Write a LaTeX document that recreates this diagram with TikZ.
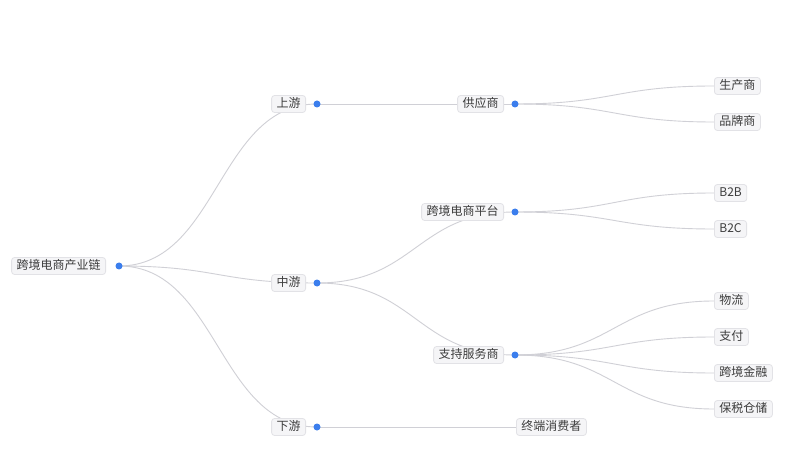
\documentclass[tikz,border=0pt]{standalone}
\usepackage{fontspec}
\setmainfont{Noto Sans CJK SC}
\usetikzlibrary{backgrounds}
\definecolor{linec}{RGB}{208,208,214}
\definecolor{dotc}{RGB}{59,126,237}
\definecolor{boxf}{RGB}{245,245,247}
\definecolor{boxd}{RGB}{226,226,230}
\definecolor{txt}{RGB}{60,60,60}
\tikzset{
  dot/.style={circle,fill=dotc,inner sep=0pt,minimum size=7pt},
  lab/.style={draw=boxd,fill=boxf,rounded corners=3pt,inner xsep=5pt,inner ysep=0pt,
    text=txt,font=\fontsize{12}{12}\selectfont,line width=0.8pt,
    minimum height=17pt,text height=9.5pt,text depth=2pt},
  link/.style={draw=linec,line width=0.9pt}
}
\begin{document}
\begin{tikzpicture}[x=1pt,y=-1pt]
\useasboundingbox (0,0) rectangle (808,470);
% dots
\node[dot] (dR) at (119,266) {};
\node[dot] (dUp) at (317,104) {};
\node[dot] (dMid) at (317,283) {};
\node[dot] (dDown) at (317,427) {};
\node[dot] (dSup) at (515,104) {};
\node[dot] (dPlat) at (515,212) {};
\node[dot] (dServ) at (515,355) {};
% labels of inner nodes
\node[lab,anchor=east] (lR) at (106,266) {跨境电商产业链};
\node[lab,anchor=east] (lUp) at (306,104) {上游};
\node[lab,anchor=east] (lMid) at (306,283) {中游};
\node[lab,anchor=east] (lDown) at (306,427) {下游};
\node[lab,anchor=east] (lSup) at (504,104) {供应商};
\node[lab,anchor=east] (lPlat) at (504,212) {跨境电商平台};
\node[lab,anchor=east] (lServ) at (504,355) {支持服务商};
% leaves
\node[lab,anchor=west] (cons) at (516,427) {终端消费者};
\node[lab,anchor=west] (l1) at (714,86) {生产商};
\node[lab,anchor=west] (l2) at (714,122) {品牌商};
\node[lab,anchor=west] (l3) at (714,193) {B2B};
\node[lab,anchor=west] (l4) at (714,229) {B2C};
\node[lab,anchor=west] (l5) at (714,301) {物流};
\node[lab,anchor=west] (l6) at (714,337) {支付};
\node[lab,anchor=west] (l7) at (714,373) {跨境金融};
\node[lab,anchor=west] (l8) at (714,409) {保税仓储};
\begin{pgfonlayer}{background}
\fill[white] (0,0) rectangle (808,470);
\foreach \a/\b in {dR/dUp,dR/dMid,dR/dDown,dUp/dSup,dMid/dPlat,dMid/dServ}
  \path[link] (\a.center) .. controls +(99,0) and +(-99,0) .. (\b.center);
\foreach \a/\b in {dSup/l1,dSup/l2,dPlat/l3,dPlat/l4,dServ/l5,dServ/l6,dServ/l7,dServ/l8}
  \path[link] (\a.center) .. controls +(99,0) and +(-99,0) .. (\b.west);
\path[link] (dDown.center) -- (cons.west);
\end{pgfonlayer}
\end{tikzpicture}
\end{document}
